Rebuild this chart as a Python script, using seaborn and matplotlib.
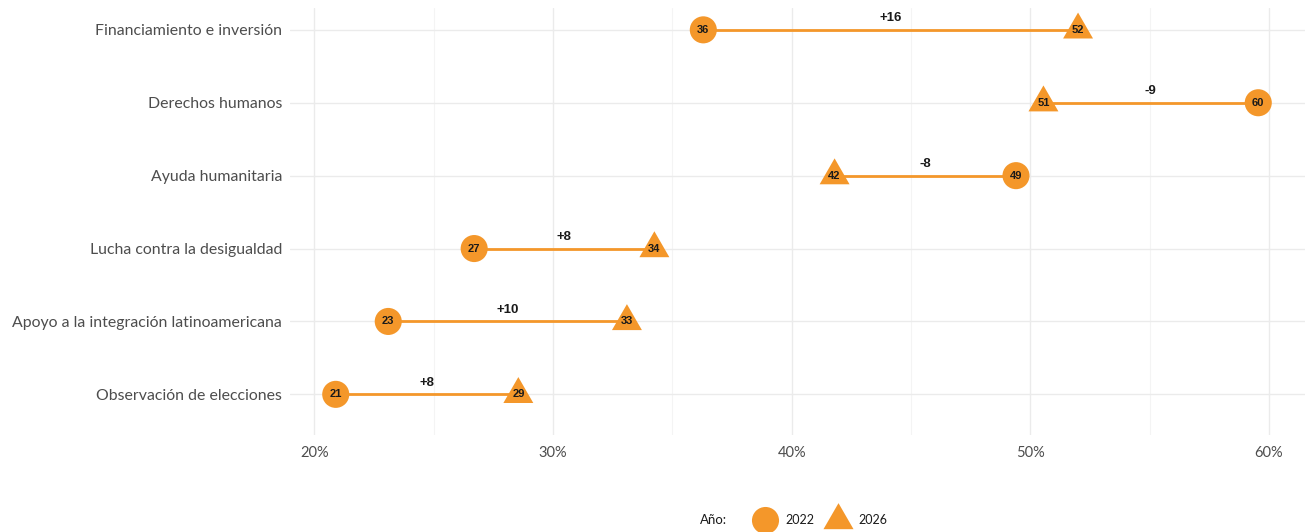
import numpy as np
import pandas as pd
import matplotlib.pyplot as plt
import matplotlib.lines as mlines
import seaborn as sns

# Data (percent)
categories = ['Financiamiento e inversión', 'Derechos humanos', 'Ayuda humanitaria',
              'Lucha contra la desigualdad', 'Apoyo a la integración latinoamericana',
              'Observación de elecciones']
values_2022 = [36.3, 59.55, 49.4, 26.7, 23.1, 20.9]
values_2026 = [52.0, 50.55, 41.8, 34.25, 33.1, 28.55]
x_ticks = [20, 30, 40, 50, 60]

orange = '#F4972A'

df = pd.DataFrame({'category': categories, 'v2022': values_2022, 'v2026': values_2026})
df['pos'] = np.arange(len(df))
df['diff'] = (df['v2026'] - df['v2022']).round().astype(int)

sns.set_theme(style='whitegrid')
plt.rcParams['font.family'] = ['Lato', 'DejaVu Sans']

# triangle with centroid at origin
tri = [(0, 2 / 3), (-0.577, -1 / 3), (0.577, -1 / 3), (0, 2 / 3)]

fig, ax = plt.subplots(figsize=(13.14, 5.32), dpi=100)
fig.subplots_adjust(left=0.221, right=0.993, top=0.985, bottom=0.182)

# segments
ax.hlines(df['pos'], df['v2022'], df['v2026'], color=orange, lw=2, zorder=2)

sns.scatterplot(data=df, x='v2022', y='pos', marker='o', s=380, color=orange,
                edgecolor='none', ax=ax, zorder=3, legend=False)
sns.scatterplot(data=df, x='v2026', y='pos', marker=tri, s=620, color=orange,
                edgecolor='none', ax=ax, zorder=3, legend=False)

for _, r in df.iterrows():
    for v in (r['v2022'], r['v2026']):
        ax.text(v, r['pos'], f'{int(v + 0.5):d}', ha='center', va='center',
                fontsize=8, fontweight='bold', color='#1a1a1a',
                family='Liberation Sans', zorder=4)
    mid = (r['v2022'] + r['v2026']) / 2
    ax.text(mid, r['pos'] - 0.16, f"{r['diff']:+d}", ha='center', va='center',
            fontsize=9.5, fontweight='bold', color='#1a1a1a',
            family='Liberation Sans', zorder=4)

ax.set_xlim(19.0, 61.5)
ax.set_ylim(5.56, -0.3)
ax.set_xticks(x_ticks)
ax.set_xticklabels([f'{t}%' for t in x_ticks])
ax.set_xticks([25, 35, 45, 55], minor=True)
ax.set_yticks(df['pos'])
ax.set_yticklabels(df['category'])
ax.set_xlabel('')
ax.set_ylabel('')

ax.grid(True, which='major', color='#ebebeb', lw=1)
ax.grid(True, which='minor', axis='x', color='#f4f4f4', lw=0.8)
ax.tick_params(axis='both', which='both', length=0, labelcolor='#4d4d4d', pad=4)
ax.tick_params(axis='y', labelsize=11.4, pad=6)
ax.tick_params(axis='x', labelsize=10.5, pad=8)
for s in ax.spines.values():
    s.set_visible(False)

# legend
h1 = mlines.Line2D([], [], ls='none', marker='o', markersize=19.5, color=orange, mec='none')
h2 = mlines.Line2D([], [], ls='none', marker=tri, markersize=25, color=orange, mec='none')
leg = fig.legend([h1, h2], ['2022', '2026'], loc='center', bbox_to_anchor=(0.624, 0.022),
                 ncol=2, frameon=False, fontsize=9, handletextpad=0.65,
                 columnspacing=0.9, handlelength=2)
for t in leg.get_texts():
    t.set_color('#1a1a1a')
fig.text(0.533, 0.022, 'Año:', ha='left', va='center', fontsize=9.5, color='#1a1a1a')

fig.savefig('out.png', dpi=100)
